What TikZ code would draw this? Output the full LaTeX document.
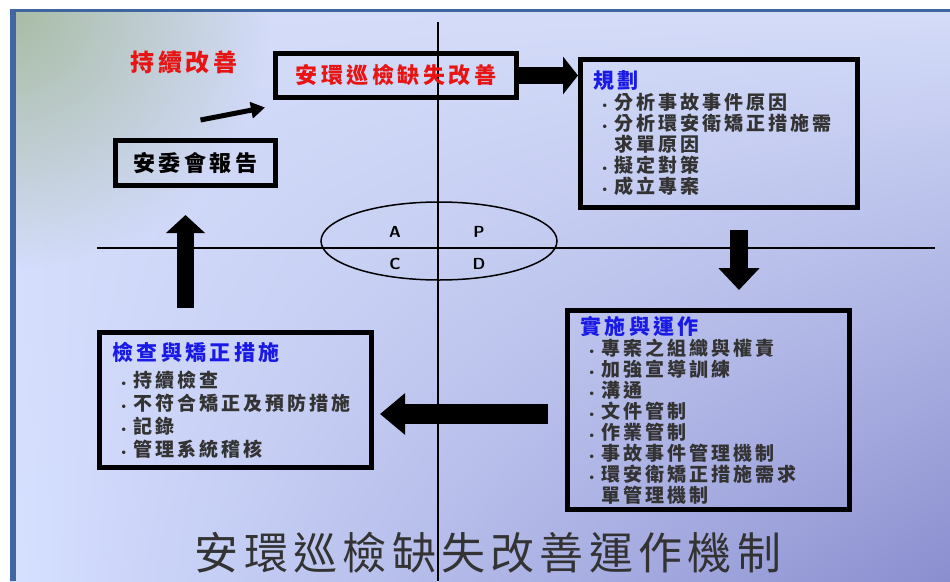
\documentclass[tikz,border=0pt]{standalone}
\usepackage{fontspec}
\setmainfont{Noto Sans CJK TC}
\newfontfamily\boxfont[LetterSpace=16]{Noto Sans CJK TC}
\newfontfamily\titlefont[LetterSpace=12]{Noto Sans CJK TC}
\newfontfamily\dotfont{DejaVu Sans}
\usepackage{xcolor}
\usepackage{tikz}
\usetikzlibrary{arrows.meta}
\usetikzlibrary{shadings}
\usetikzlibrary{fadings}
\usetikzlibrary{calc}
\usetikzlibrary{positioning}

\definecolor{framebl}{HTML}{3F66A0}
\definecolor{ttlblue}{HTML}{1A1AE6}
\definecolor{redtxt}{HTML}{E81414}
\definecolor{itemgray}{HTML}{333333}
\definecolor{bggreen}{HTML}{A8BCA4}
\definecolor{bglight}{HTML}{D4DCF9}
\definecolor{bgll}{HTML}{D6E0FF}
\definecolor{bglr}{HTML}{8A8ECF}

\tikzfading[name=cornerfade, inner color=transparent!0, outer color=transparent!100]

\newcommand{\itm}[1]{\hspace*{8pt}\makebox[13pt][l]{\dotfont\fontsize{10}{10}\selectfont •}#1}

\begin{document}
\begin{tikzpicture}[x=1pt,y=-1pt,
  boxline/.style={draw=black, line width=5pt},
  listbox/.style={boxline, anchor=north west, align=left, inner xsep=13pt,
    font=\boxfont\bfseries\fontsize{19}{21}\selectfont, text=itemgray},
  bigarrow/.style={line width=#1, -{Triangle[length=20pt,width=40pt]}},
  quad/.style={font=\sffamily\bfseries\fontsize{16}{18}\selectfont}]

\useasboundingbox (0,0) rectangle (950,581);
% background panel
\shade[upper left=bglight, upper right=bglight, lower left=bgll, lower right=bglr]
  (10,9) rectangle (950,581);
\begin{scope}
  \clip (10,9) rectangle (950,581);
  \fill[bggreen, path fading=cornerfade] (10,9) circle [radius=260];
\end{scope}
\draw[framebl, line width=6pt] (13,581) -- (13,12);
\draw[framebl, line width=3pt] (10,10.5) -- (950,10.5);

% axes and PDCA ellipse
\draw[line width=2pt] (438,22) -- (438,581);
\draw[line width=2pt] (97,248) -- (935,248);
\draw[line width=1.5pt] (439,241) ellipse [x radius=118, y radius=39];
\node[quad] (qa) at (395,232) {A};
\node[quad] (qp) at (479,232) {P};
\node[quad] (qc) at (395,264) {C};
\node[quad] (qd) at (479,264) {D};

% boxes
\node[text=redtxt, font=\boxfont\bfseries\fontsize{24}{26}\selectfont] (keep) at (184,62) {持續改善};
\node[boxline, anchor=north west, minimum width=241pt, minimum height=44pt, text=redtxt,
  font=\boxfont\bfseries\fontsize{22}{24}\selectfont] (redbox) at (273,51) {安環巡檢缺失改善};
\node[boxline, anchor=north west, minimum width=160pt, minimum height=45pt, text=black,
  font=\boxfont\bfseries\fontsize{22}{24}\selectfont] (report) at (113,138) {安委會報告};

\node[listbox, text width=251pt, minimum height=148pt] (plan) at (578,57)
  {{\color{ttlblue}\fontsize{21}{21}\selectfont 規劃}\\
   \itm{分析事故事件原因}\\
   \itm{分析環安衛矯正措施需}\\
   \hspace*{21pt}求單原因\\
   \itm{擬定對策}\\
   \itm{成立專案}};

\node[listbox, text width=256pt, minimum height=199pt] (do) at (565,308)
  {{\color{ttlblue}\fontsize{21}{21}\selectfont 實施與運作}\\
   \itm{專案之組織與權責}\\
   \itm{加強宣導訓練}\\
   \itm{溝通}\\
   \itm{文件管制}\\
   \itm{作業管制}\\
   \itm{事故事件管理機制}\\
   \itm{環安衛矯正措施需求}\\
   \hspace*{21pt}單管理機制};

\node[listbox, text width=246pt, minimum height=135pt, font=\boxfont\bfseries\fontsize{19}{23}\selectfont] (check) at (97,330)
  {{\color{ttlblue}\fontsize{21}{21}\selectfont 檢查與矯正措施}\\[4pt]
   \itm{持續檢查}\\
   \itm{不符合矯正及預防措施}\\
   \itm{記錄}\\
   \itm{管理系統稽核}};

% cycle arrows
\draw[bigarrow=17pt, -{Triangle[length=15pt,width=37pt]}] (redbox) -- (redbox -| plan.west);
\draw[bigarrow=18pt, -{Triangle[length=22pt,width=40pt]}, shorten <=20pt, shorten >=18pt]
  ([xshift=20pt]plan.south) -- ([xshift=20pt]plan.south |- do.north);
\draw[bigarrow=20pt, -{Triangle[length=25pt,width=40pt]}, shorten <=17pt, shorten >=6pt]
  ([yshift=-4pt]do.west) -- ([yshift=-4pt]do.west -| check.east);
\draw[bigarrow=17pt, -{Triangle[length=18pt,width=38pt]}, shorten <=22pt, shorten >=27pt]
  ([xshift=-10pt]report.south |- check.north) -- ([xshift=-10pt]report.south);
\draw[line width=5pt, -{Triangle[length=14pt,width=16pt]}]
  ($(report.north)+(5,-18)$) -- ($(redbox.west)+(-8,32)$);

% caption
\node[font=\titlefont\fontsize{44}{46}\selectfont, text=black!80] (caption) at (488,553) {安環巡檢缺失改善運作機制};

\end{tikzpicture}
\end{document}
